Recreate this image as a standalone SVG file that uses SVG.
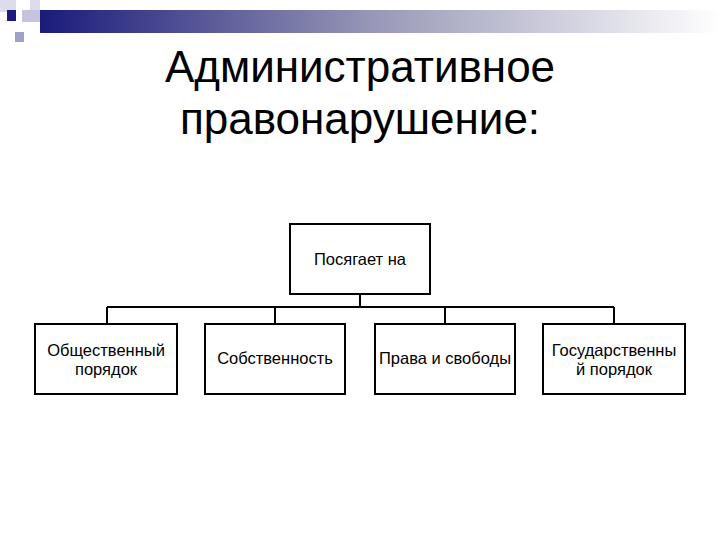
<svg xmlns="http://www.w3.org/2000/svg" width="720" height="540" viewBox="0 0 720 540">
<style>
.b{fill:#fff;stroke:#000;stroke-width:2}
.t{font-family:"Liberation Sans",Arial,sans-serif;font-size:16.5px;text-anchor:middle}
.h{font-family:"Liberation Sans",Arial,sans-serif;font-size:44px;text-anchor:middle}
.c{fill:none;stroke:#000;stroke-width:2}
</style>
<defs><linearGradient id="g" x1="0" x2="1"><stop offset="0" stop-color="#1a1a7a"/><stop offset="0.5" stop-color="#9a9ab8"/><stop offset="1" stop-color="#fff"/></linearGradient></defs>
<rect width="720" height="540" fill="#fff"/>
<g id="deco">
<rect x="0" y="0" width="16" height="12" fill="#dcdcec"/>
<rect x="30" y="0" width="10" height="10" fill="#dcdcec"/>
<rect x="22" y="10" width="18" height="12" fill="#c4c4dc"/>
<rect x="7" y="10" width="9" height="11" fill="#1a1a80"/>
<rect x="15" y="32" width="9" height="10" fill="#a0a0c8"/>
<rect x="40" y="10" width="680" height="23" fill="url(#g)"/>
</g>
<text class="h" x="360" y="82">Административное</text>
<text class="h" x="360" y="134">правонарушение:</text>
<g id="connectors">
<path class="c" d="M360 294V307M107 307H614M107 307V324M275 307V324M445 307V324M614 307V324"/>
</g>
<g id="top"><rect class="b" x="290" y="224" width="140" height="70"/><text class="t" x="360" y="265">Посягает на</text></g>
<g id="n1"><rect class="b" x="35" y="324" width="142" height="70"/><text class="t" x="106" y="356">Общественный</text><text class="t" x="106" y="375">порядок</text></g>
<g id="n2"><rect class="b" x="205" y="324" width="140" height="70"/><text class="t" x="275" y="364">Собственность</text></g>
<g id="n3"><rect class="b" x="375" y="324" width="140" height="70"/><text class="t" x="445" y="364">Права и свободы</text></g>
<g id="n4"><rect class="b" x="543" y="324" width="142" height="70"/><text class="t" x="614" y="356">Государственны</text><text class="t" x="614" y="375">й порядок</text></g>
</svg>
